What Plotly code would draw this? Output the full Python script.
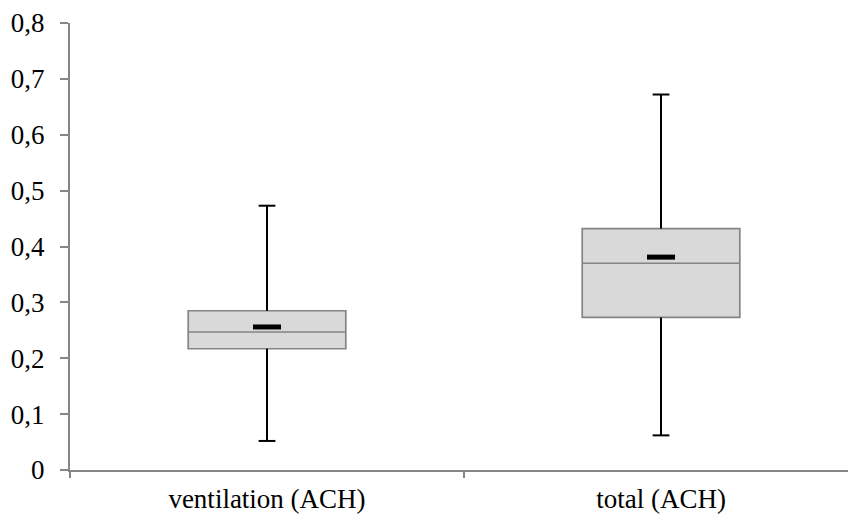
import plotly.graph_objects as go

categories = ["ventilation (ACH)", "total (ACH)"]
minimum = [0.052, 0.062]
q1 = [0.217, 0.273]
median = [0.247, 0.370]
q3 = [0.285, 0.432]
maximum = [0.473, 0.672]
mean = [0.256, 0.381]
y_ticks = [0, 0.1, 0.2, 0.3, 0.4, 0.5, 0.6, 0.7, 0.8]

FONT = "Liberation Serif"
fig = go.Figure()

# whiskers (black)
wx, wy = [], []
for c, lo, a, b, hi in zip(categories, minimum, q1, q3, maximum):
    wx += [c, c, None, c, c, None]
    wy += [b, hi, None, a, lo, None]
fig.add_trace(go.Scatter(x=wx, y=wy, mode="lines", line=dict(color="black", width=2),
                         hoverinfo="skip", showlegend=False))
# whisker caps
fig.add_trace(go.Scatter(x=categories + categories, y=maximum + minimum, mode="markers",
                         marker=dict(symbol="line-ew", size=12, line=dict(color="black", width=2)),
                         hoverinfo="skip", showlegend=False))
# boxes
for i, c in enumerate(categories):
    fig.add_trace(go.Box(x=[c], q1=[q1[i]], median=[median[i]], q3=[q3[i]],
                         lowerfence=[q1[i]], upperfence=[q3[i]], whiskerwidth=0,
                         width=0.4, fillcolor="#d9d9d9",
                         line=dict(color="#848484", width=1.7),
                         showlegend=False))
# mean markers
fig.add_trace(go.Scatter(x=categories, y=mean, mode="markers",
                         marker=dict(symbol="line-ew", size=20, line=dict(color="black", width=5)),
                         hoverinfo="skip", showlegend=False))

fig.update_layout(
    width=848, height=522,
    margin=dict(l=70, r=0, t=23, b=52),
    paper_bgcolor="white", plot_bgcolor="white",
    separators=", ",
    font=dict(family=FONT, size=27, color="black"),
    showlegend=False,
)
fig.update_xaxes(type="category", categoryorder="array", categoryarray=categories,
                 range=[-0.5, 1.4746], tickson="boundaries", ticks="outside",
                 ticklen=6, tickwidth=1.5, tickcolor="#868686",
                 showline=True, linecolor="#868686", linewidth=2,
                 showgrid=False, zeroline=False, ticklabelstandoff=4)
fig.update_yaxes(range=[0, 0.8], tickvals=y_ticks, ticks="outside", ticklen=8,
                 tickwidth=1.5, tickcolor="#868686",
                 showline=True, linecolor="#868686", linewidth=2,
                 showgrid=False, zeroline=False, ticklabelstandoff=10)

fig.write_html("out.html")
